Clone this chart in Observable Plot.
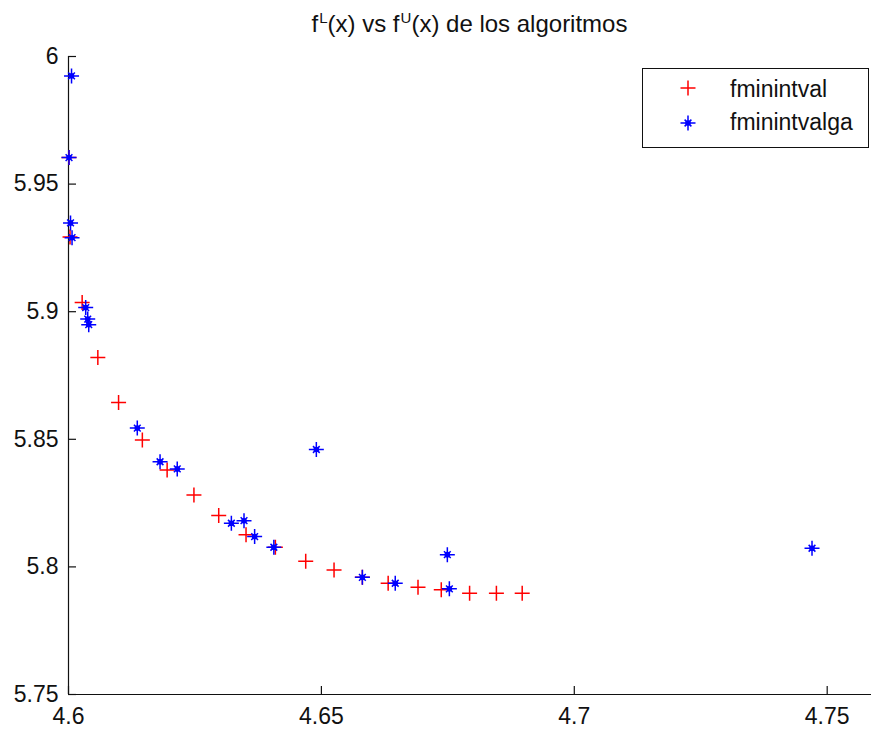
<!DOCTYPE html>
<html><head><meta charset="utf-8">
<script src="https://cdn.jsdelivr.net/npm/d3@7"></script>
<script src="https://cdn.jsdelivr.net/npm/@observablehq/plot@0.6"></script>
<style>
body{margin:0;background:#fff;}
#wrap{position:relative;width:871px;height:731px;overflow:hidden;background:#fff;font-family:"Liberation Sans",Arial,sans-serif;color:#111;}
#title{position:relative;height:40px;width:871px;}
#title span.t{position:absolute;left:68px;width:803px;text-align:center;top:12px;font-size:24px;line-height:24px;white-space:nowrap;}
#title sup{font-size:15px;line-height:0;vertical-align:9px;margin-left:1px;}
#legend{position:absolute;left:642px;top:68px;}
</style></head><body>
<div id="wrap">
<div id="title"><span class="t">f<sup>L</sup>(x) vs f<sup>U</sup>(x) de los algoritmos</span></div>
<div id="chart"></div>
<svg id="legend" width="228" height="81" font-family="Liberation Sans, Arial, sans-serif" font-size="23">
  <rect x="0.5" y="0.5" width="226" height="79" fill="#fff" stroke="#111" stroke-width="1"/>
  <path d="M38.5,20H53.5M46,12.5V27.5" stroke="#f00" stroke-width="1.5" fill="none"/>
  <path d="M38.5,55H53.5M46,47.5V62.5M42.6,51.6L49.4,58.4M42.6,58.4L49.4,51.6" stroke="#00f" stroke-width="1.5" fill="none"/>
  <circle cx="46" cy="55" r="2.8" fill="#00f"/>
  <text x="88" y="29" fill="#111">fminintval</text>
  <text x="88" y="62" fill="#111">fminintvalga</text>
</svg>
</div>
<script>
// fminintval (red +)
const redX = [4.6001, 4.6003, 4.6027, 4.6058, 4.6099, 4.6146, 4.6195, 4.6248, 4.6297, 4.6351, 4.6409, 4.6469, 4.6525, 4.6581, 4.6632, 4.6691, 4.6737, 4.6793, 4.6846, 4.6897];
const redY = [5.9604, 5.9293, 5.9036, 5.8821, 5.8644, 5.8497, 5.8380, 5.8282, 5.8201, 5.8126, 5.8077, 5.8022, 5.7988, 5.7959, 5.7936, 5.7920, 5.7910, 5.7897, 5.7897, 5.7897];
// fminintvalga (blue *)
const blueX = [4.6006, 4.6001, 4.6004, 4.6007, 4.6034, 4.6038, 4.6040, 4.6136, 4.6181, 4.6215, 4.6322, 4.6347, 4.6368, 4.6406, 4.6490, 4.6581, 4.6646, 4.6749, 4.6753, 4.7470];
const blueY = [5.9924, 5.9604, 5.9348, 5.9290, 5.9016, 5.8971, 5.8949, 5.8544, 5.8412, 5.8384, 5.8171, 5.8181, 5.8119, 5.8077, 5.8460, 5.7959, 5.7936, 5.8048, 5.7914, 5.8073];

const xTicks = [4.6, 4.65, 4.7, 4.75];
const xTickLabels = ["4.6", "4.65", "4.7", "4.75"];
const yTicks = [5.75, 5.8, 5.85, 5.9, 5.95, 6];
const yTickLabels = ["5.75", "5.8", "5.85", "5.9", "5.95", "6"];

const red = redX.map((x, i) => ({x, y: redY[i]}));
const blue = blueX.map((x, i) => ({x, y: blueY[i]}));

const plusSym = {draw(ctx, size) {
  const r = Math.sqrt(size / Math.PI);
  ctx.moveTo(-r, 0); ctx.lineTo(r, 0);
  ctx.moveTo(0, -r); ctx.lineTo(0, r);
}};
const starSym = {draw(ctx, size) {
  const r = Math.sqrt(size / Math.PI);
  const d = r * 0.45;
  ctx.moveTo(-r, 0); ctx.lineTo(r, 0);
  ctx.moveTo(0, -r); ctx.lineTo(0, r);
  ctx.moveTo(-d, -d); ctx.lineTo(d, d);
  ctx.moveTo(-d, d); ctx.lineTo(d, -d);
}};

const W = 871, H = 691, mL = 68, mR = 0, mT = 16, mB = 37;
const innerW = W - mL - mR, innerH = H - mT - mB;
const TICK = 8;

const chart = Plot.plot({
  width: W, height: H,
  marginLeft: mL, marginRight: mR, marginTop: mT, marginBottom: mB,
  style: {fontFamily: "Liberation Sans, Arial, sans-serif", fontSize: "23px", color: "#111", background: "#fff", overflow: "visible"},
  x: {domain: [4.6, 4.75876]},
  y: {domain: [5.75, 6]},
  marks: [
    Plot.ruleX([4.6], {stroke: "#111", strokeWidth: 1.2}),
    Plot.ruleY([5.75], {stroke: "#111", strokeWidth: 1.2}),
    Plot.tickX(xTicks, {x: d => d, insetTop: innerH - TICK, stroke: "#111", strokeWidth: 1.2}),
    Plot.tickY(yTicks, {y: d => d, insetRight: innerW - TICK, stroke: "#111", strokeWidth: 1.2}),
    Plot.axisX(xTicks, {tickSize: 0, tickPadding: 13, fontSize: 23, label: null,
      tickFormat: d => xTickLabels[xTicks.indexOf(d)]}),
    Plot.axisY(yTicks, {tickSize: 0, tickPadding: 10, fontSize: 23, label: null,
      tickFormat: d => yTickLabels[yTicks.indexOf(d)]}),
    Plot.dot(red, {x: "x", y: "y", symbol: plusSym, r: 7.5, stroke: "#f00", fill: "none", strokeWidth: 1.5}),
    Plot.dot(blue, {x: "x", y: "y", symbol: starSym, r: 7.5, stroke: "#00f", fill: "none", strokeWidth: 1.5}),
    Plot.dot(blue, {x: "x", y: "y", r: 2.8, fill: "#00f", stroke: "none"})
  ]
});
document.getElementById("chart").appendChild(chart);
</script>
</body></html>
